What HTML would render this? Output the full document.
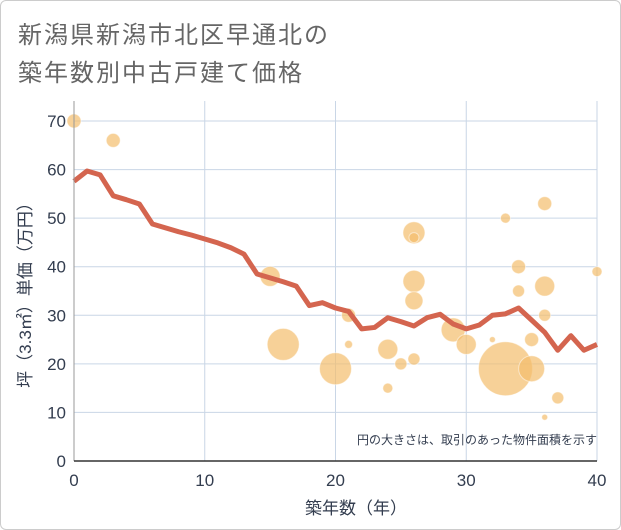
<!DOCTYPE html>
<html><head><meta charset="utf-8"><style>
body{margin:0;background:#fff;}
#wrap{position:relative;width:621px;height:530px;box-sizing:border-box;border:1px solid #ccc;border-radius:6px;overflow:hidden;font-family:"Liberation Sans","Noto Sans CJK JP",sans-serif;}
</style></head><body>
<div id="wrap">
<svg id="chart" width="621" height="530" xmlns="http://www.w3.org/2000/svg">
<text x="17" y="42" font-size="24" fill="#666" letter-spacing="2" font-family="Liberation Sans, Noto Sans CJK JP, sans-serif">新潟県新潟市北区早通北の</text>
<text x="17" y="80" font-size="24" fill="#666" letter-spacing="2" font-family="Liberation Sans, Noto Sans CJK JP, sans-serif">築年数別中古戸建て価格</text>
<g id="grid"></g>
<g id="bubbles"></g>
<g id="line"></g>
<g id="axes"></g>
<text x="596" y="443" font-size="12" fill="#333d4f" text-anchor="end" font-family="Liberation Sans, Noto Sans CJK JP, sans-serif">円の大きさは、取引のあった物件面積を示す</text>
<text x="355" y="513" font-size="17" fill="#333d4f" text-anchor="middle" font-family="Liberation Sans, Noto Sans CJK JP, sans-serif">築年数（年）</text>
<text transform="translate(30,290) rotate(-90)" font-size="17" fill="#333d4f" text-anchor="middle" font-family="Liberation Sans, Noto Sans CJK JP, sans-serif">坪（3.3㎡）単価（万円）</text>
</svg>
</div>
<script>
const xTicks=[0,10,20,30,40];
const yTicks=[0,10,20,30,40,50,60,70];
const lineYears=[0,1,2,3,4,5,6,7,8,9,10,11,12,13,14,15,16,17,18,19,20,21,22,23,24,25,26,27,28,29,30,31,32,33,34,35,36,37,38,39,40];
const lineValues=[57.6,59.7,58.9,54.6,53.8,52.9,48.8,48.0,47.2,46.5,45.7,44.9,43.9,42.6,38.5,37.7,36.9,36.0,32.0,32.6,31.5,30.8,27.2,27.5,29.5,28.7,27.8,29.5,30.2,28.2,27.2,28.0,30.0,30.3,31.5,29.0,26.5,22.8,25.8,22.8,24.0];
const bubbleYears=[0,3,15,16,20,21,21,24,24,25,26,26,26,26,26,29,30,32,33,33,34,34,35,35,36,36,36,36,37,40];
const bubbleValues=[70,66,38,24,19,30,24,23,15,20,21,47,46,37,33,27,24,25,19,50,40,35,25,19,53,36,30,9,13,39];
const bubbleSizes=[7,7,10,16,16,7,4,10,5,6,6,11,5,11,9,12,10,3,27,5,7,6,7,13,7,10,6,3,6,5];
const X0=73,X1=596,Y0=460,Y1=120;
const xs=v=>X0+(v-0)/(40-0)*(X1-X0);
const ys=v=>Y0-(v-0)/(70-0)*(Y0-Y1);
const NS="http://www.w3.org/2000/svg";
function mk(tag,attrs,parent){const e=document.createElementNS(NS,tag);for(const k in attrs)e.setAttribute(k,attrs[k]);parent.appendChild(e);return e;}
const grid=document.getElementById('grid'),axes=document.getElementById('axes');
yTicks.forEach(t=>{
  const l=mk('line',{x1:X0,x2:X1,y1:ys(t),y2:ys(t),stroke:'#c9d6e6','stroke-width':1},grid);
  
  
  const tx=mk('text',{x:X0-8,y:ys(t)+6,'font-size':17,fill:'#333d4f','text-anchor':'end'},axes);
  tx.textContent=t;
  
  
});
xTicks.forEach(t=>{
  const l=mk('line',{x1:xs(t),x2:xs(t),y1:Y1-20,y2:Y0,stroke:'#c9d6e6','stroke-width':1},grid);
  
  
  const tx=mk('text',{x:xs(t),y:Y0+25,'font-size':17,fill:'#333d4f','text-anchor':'middle'},axes);
  tx.textContent=t;
  
  
});
const ya=mk('line',{x1:X0,x2:X0,y1:Y1-20,y2:Y0,stroke:'#999','stroke-width':1},axes);


const xa=mk('line',{x1:X0,x2:X1,y1:Y0,y2:Y0,stroke:'#333','stroke-width':1.5},axes);


const bg=document.getElementById('bubbles');
bubbleYears.forEach((y,i)=>{
  const c=mk('circle',{cx:xs(y),cy:ys(bubbleValues[i]),r:bubbleSizes[i],fill:'#f3be6c','fill-opacity':0.7,stroke:'#fff','stroke-opacity':0.5,'stroke-width':1},bg);
  
  
});
const pts=lineYears.map((y,i)=>xs(y)+','+ys(lineValues[i])).join(' ');
const pl=mk('polyline',{points:pts,fill:'none',stroke:'#d4654f','stroke-width':5,'stroke-linejoin':'round'},document.getElementById('line'));


</script>
</body></html>
